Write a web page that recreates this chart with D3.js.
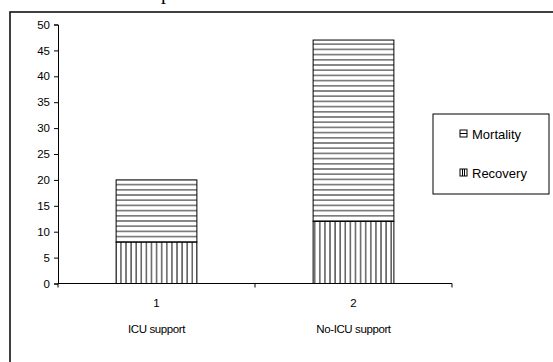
<!DOCTYPE html>
<html><head><meta charset="utf-8">
<script src="https://cdn.jsdelivr.net/npm/d3@7"></script>
<style>html,body{margin:0;padding:0;background:#fff;}svg{display:block;}</style>
</head><body>
<svg id="c" width="553" height="362"></svg>
<script>
const categories = ["1", "2"];
const categoryNames = ["ICU support", "No-ICU support"];
const seriesNames = ["Recovery", "Mortality"];
const recovery = [8, 12];
const mortality = [12, 35];
const yTicks = [0, 5, 10, 15, 20, 25, 30, 35, 40, 45, 50];

const svg = d3.select("#c");
const defs = svg.append("defs");
const pH = defs.append("pattern").attr("id", "pH").attr("patternUnits", "userSpaceOnUse")
  .attr("width", 8).attr("height", 5.2);
pH.append("rect").attr("width", 8).attr("height", 5.2).attr("fill", "#fff");
pH.append("rect").attr("y", 2).attr("width", 8).attr("height", 1.2).attr("fill", "#444");
const pV = defs.append("pattern").attr("id", "pV").attr("patternUnits", "userSpaceOnUse")
  .attr("width", 5.1).attr("height", 8).attr("x", 1);
pV.append("rect").attr("width", 5.1).attr("height", 8).attr("fill", "#fff");
pV.append("rect").attr("x", 2).attr("width", 1.2).attr("height", 8).attr("fill", "#333");

// outer frame
svg.append("rect").attr("x", 10).attr("y", 12).attr("width", 600).attr("height", 400)
  .attr("fill", "none").attr("stroke", "#111").attr("stroke-width", 1.6);
// clipped title fragment (only the descender is visible in the reference)
svg.append("text").attr("x", 161).attr("y", -1.5).attr("font-family", "Liberation Serif, Times New Roman, serif")
  .attr("font-size", 20).attr("fill", "#000").text("p");

const x = d3.scaleBand().domain(categories).range([58, 452]).paddingInner(0).paddingOuter(0);
const y = d3.scaleLinear().domain([0, 50]).range([283.5, 24.5]);
const barW = x.bandwidth() * 0.41;

const font = "Liberation Sans, Arial, sans-serif";

// y axis
const yAxis = svg.append("g").attr("transform", "translate(58,0)")
  .call(d3.axisLeft(y).tickValues(yTicks).tickSize(4).tickPadding(4));
yAxis.select(".domain").attr("stroke", "#000").attr("stroke-width", 1);
yAxis.selectAll(".tick line").attr("stroke", "#000");
yAxis.selectAll(".tick text").attr("font-family", font).attr("font-size", 11.5).attr("fill", "#000");

// bars
const stackData = categories.map((c, i) => ({ c, Recovery: recovery[i], Mortality: mortality[i] }));
const stack = d3.stack().keys(seriesNames)(stackData);
const fills = { Recovery: "url(#pV)", Mortality: "url(#pH)" };
svg.append("g").selectAll("g").data(stack).join("g")
  .attr("fill", d => fills[d.key])
  .selectAll("rect").data(d => d).join("rect")
  .attr("x", d => x(d.data.c) + (x.bandwidth() - barW) / 2)
  .attr("y", d => y(d[1]))
  .attr("width", barW)
  .attr("height", d => y(d[0]) - y(d[1]))
  .attr("stroke", "#000").attr("stroke-width", 1);

// x axis
const xAxisG = svg.append("g").attr("transform", "translate(0,283.5)");
xAxisG.append("line").attr("x1", 58).attr("x2", 452).attr("stroke", "#000");
const edges = [x.range()[0]].concat(categories.map(c => x(c) + x.bandwidth()));
xAxisG.selectAll("line.t").data(edges).join("line").attr("class", "t")
  .attr("x1", d => d).attr("x2", d => d).attr("y1", 0).attr("y2", 4).attr("stroke", "#000");
xAxisG.selectAll("text.n").data(categories).join("text").attr("class", "n")
  .attr("x", d => x(d) + x.bandwidth() / 2).attr("y", 23)
  .attr("text-anchor", "middle").attr("font-family", font).attr("font-size", 11.5).text(d => d);
xAxisG.selectAll("text.l").data(categoryNames).join("text").attr("class", "l")
  .attr("x", (d, i) => x(categories[i]) + x.bandwidth() / 2).attr("y", 49)
  .attr("text-anchor", "middle").attr("font-family", font).attr("font-size", 11.5)
  .attr("letter-spacing", -0.4).text(d => d);

// legend
const lg = svg.append("g");
lg.append("rect").attr("x", 433).attr("y", 114).attr("width", 116).attr("height", 80)
  .attr("fill", "#fff").attr("stroke", "#000").attr("stroke-width", 1);
const legendItems = ["Mortality", "Recovery"];
const ly = [134, 173];
legendItems.forEach((name, i) => {
  const g = lg.append("g").attr("transform", `translate(460,${ly[i]})`);
  g.append("rect").attr("x", 0).attr("y", -4).attr("width", 7).attr("height", 7)
    .attr("fill", "#fff").attr("stroke", "#000").attr("stroke-width", 1);
  if (name === "Mortality") {
    g.append("line").attr("x1", 0).attr("x2", 7).attr("y1", -0.5).attr("y2", -0.5).attr("stroke", "#000");
  } else {
    g.append("line").attr("x1", 2.5).attr("x2", 2.5).attr("y1", -4).attr("y2", 3).attr("stroke", "#000");
    g.append("line").attr("x1", 4.5).attr("x2", 4.5).attr("y1", -4).attr("y2", 3).attr("stroke", "#000");
  }
  g.append("text").attr("x", 12).attr("y", 4.5).attr("font-family", font).attr("font-size", 13)
    .text(name);
});
</script>
</body></html>
